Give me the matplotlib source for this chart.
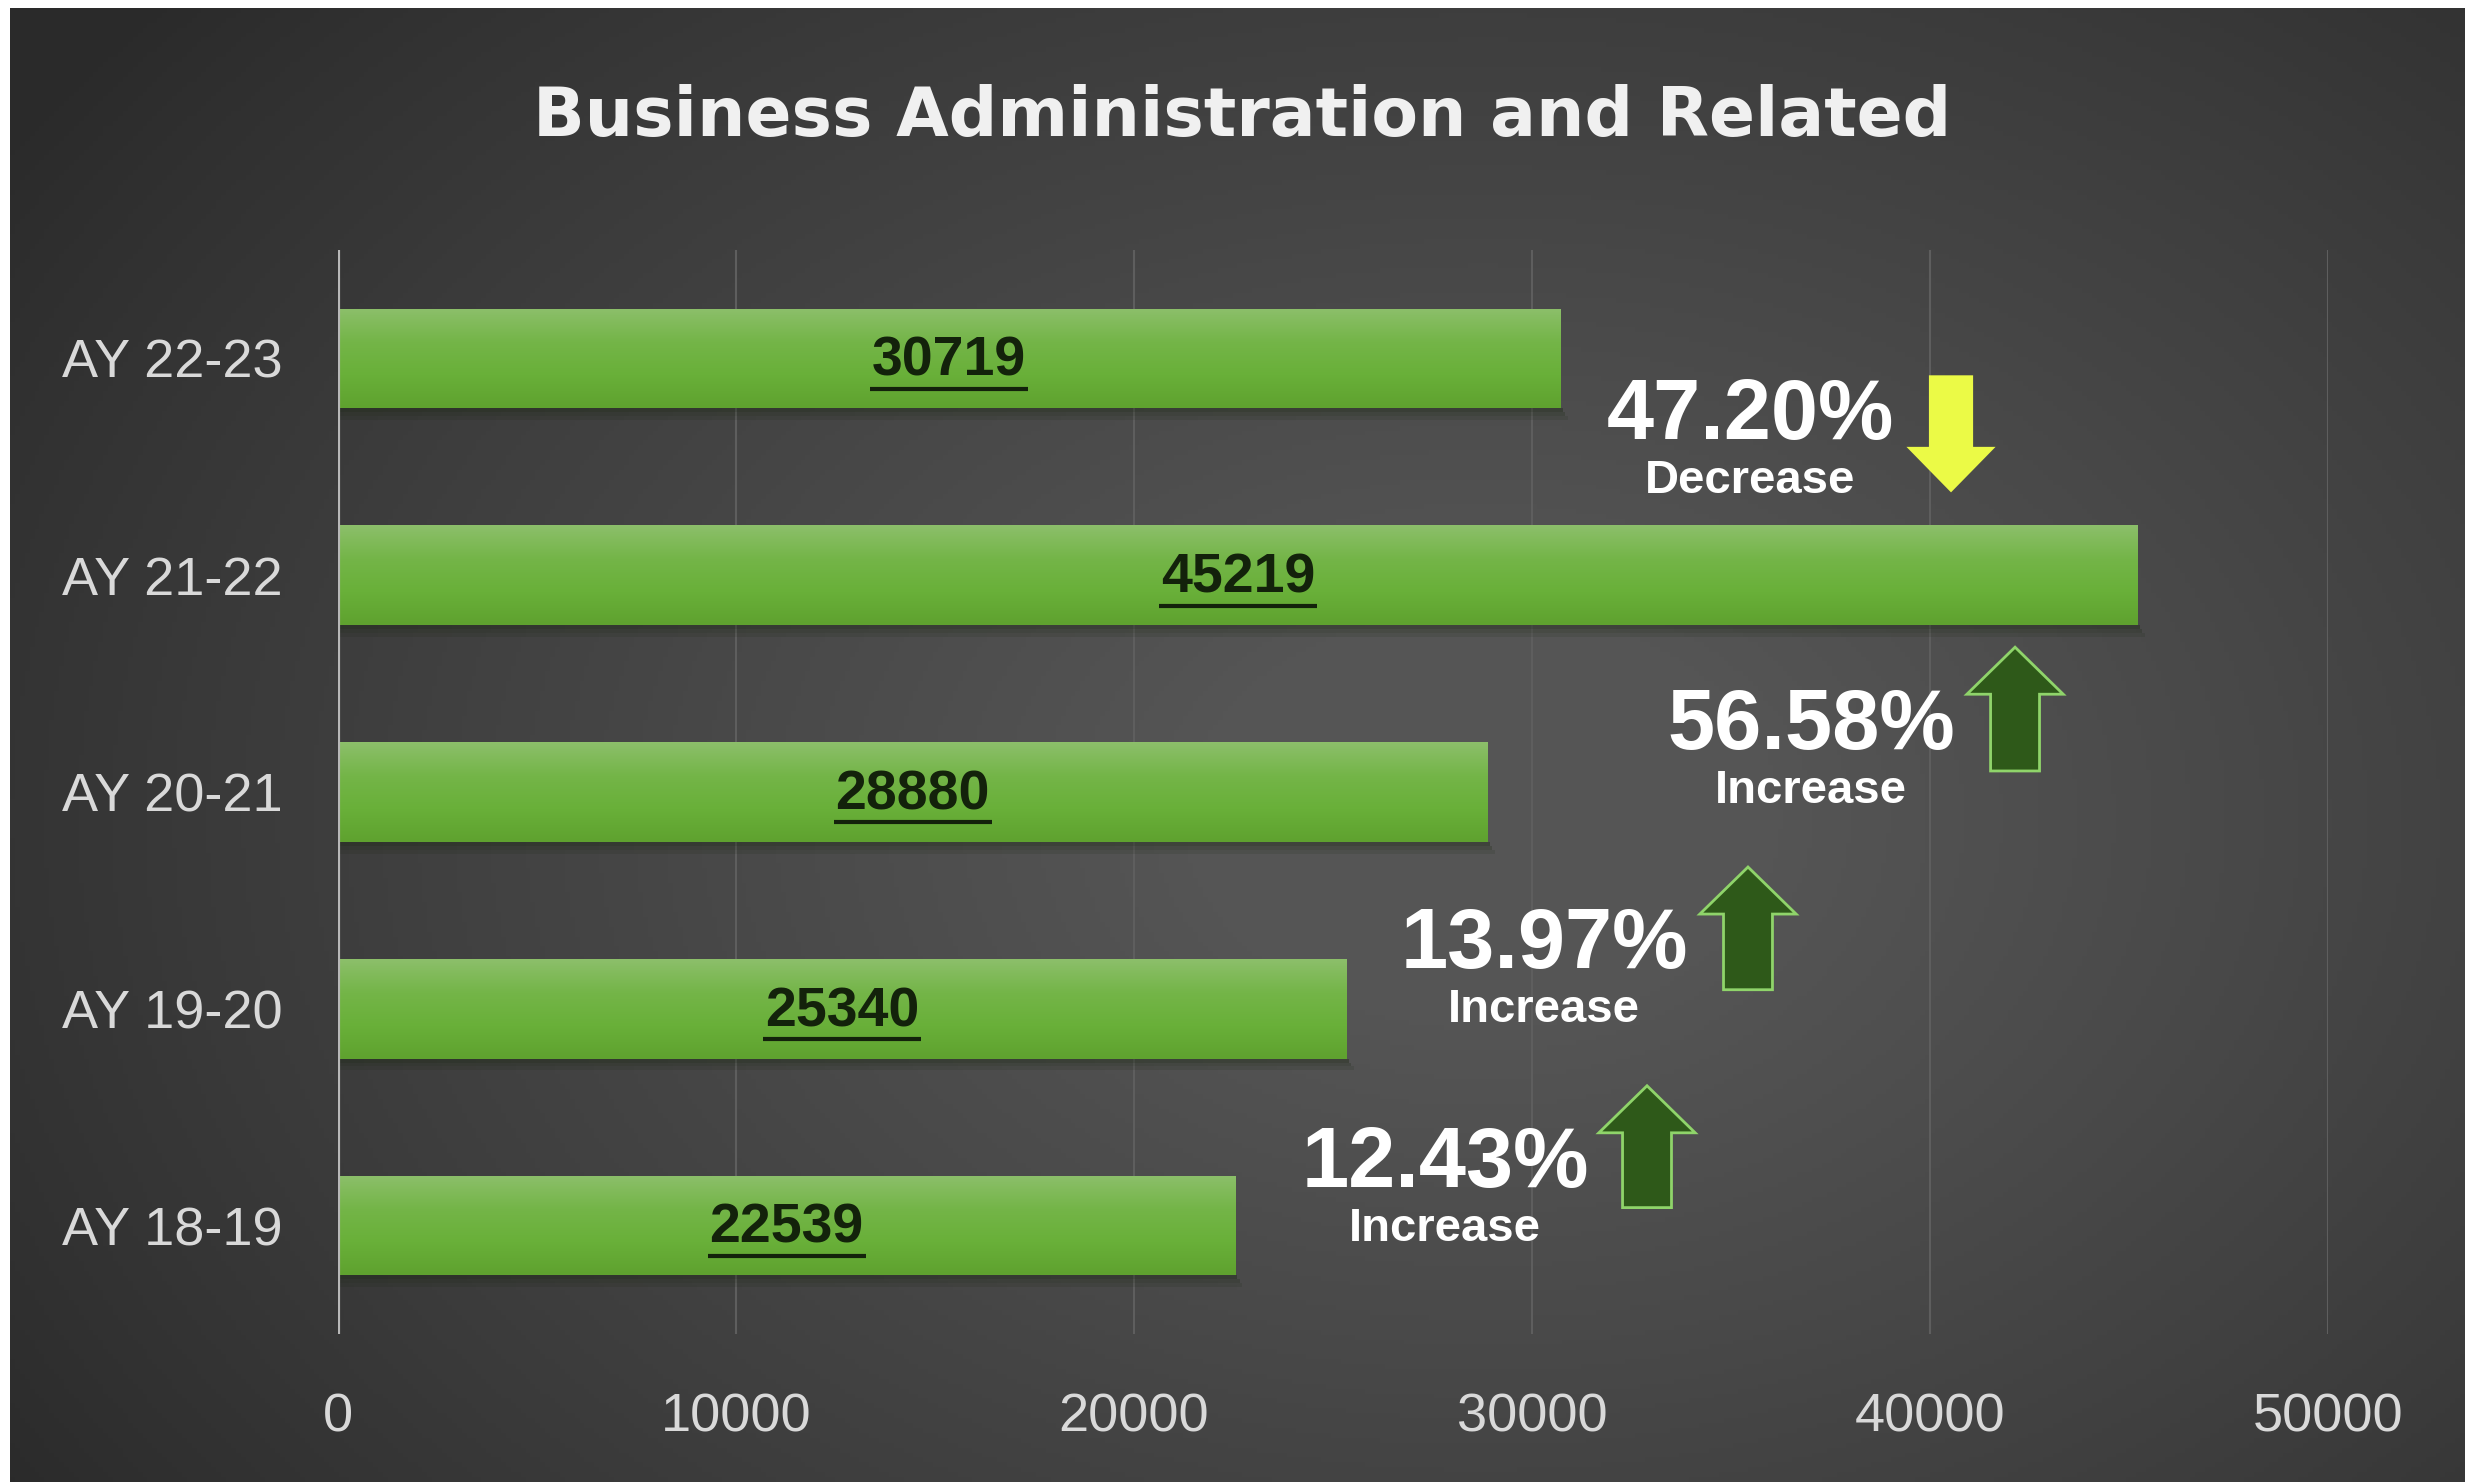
import numpy as np
import matplotlib
matplotlib.use("Agg")
import matplotlib.pyplot as plt
from matplotlib.patches import Polygon, Rectangle
from matplotlib.colors import LinearSegmentedColormap

# chart data
years = ["AY 18-19", "AY 19-20", "AY 20-21", "AY 21-22", "AY 22-23"]
counts = [22539, 25340, 28880, 45219, 30719]
x_ticks = [0, 10000, 20000, 30000, 40000, 50000]

# year-over-year change callouts (placed between bars)
pct_labels = ["12.43%", "13.97%", "56.58%", "47.20%"]
pct_words = ["Increase", "Increase", "Increase", "Decrease"]
pct_text_x = [27815, 30302, 37011, 35477]
pct_text_y = [0.18, 1.19, 2.20, 3.63]
arrow_x = [32890, 35427, 42137, 40528]
arrow_base = [0.083, 1.088, 2.097, 3.922]
arrow_tip = [0.645, 1.654, 2.668, 3.382]

W, H = 2465, 1482
fig = plt.figure(figsize=(W / 100, H / 100), dpi=100)
fig.patch.set_facecolor("white")

# dark radial background, thin white strip on left and top
bg = fig.add_axes([10 / W, 0, 1 - 10 / W, 1 - 8 / H])
bg.set_axis_off()
yy, xx = np.mgrid[0:1:300j, 0:1:500j]
r = np.sqrt(((xx - 0.6) / 0.72) ** 2 + ((yy - 0.55) / 0.85) ** 2)
shade = np.clip(1 - r, 0, 1) ** 0.9
bg_cmap = LinearSegmentedColormap.from_list("bg", ["#2a2a2a", "#555555"])
bg.imshow(shade, cmap=bg_cmap, aspect="auto", extent=[0, 1, 0, 1], vmin=0, vmax=0.85)
bg.set_xlim(0, 1)
bg.set_ylim(0, 1)

ax = fig.add_axes([338 / W, 1 - 1334 / H, (2328 - 338) / W, (1334 - 250) / H])
ax.set_facecolor("none")
ypos = np.arange(len(years))
bar_h = 0.46

bars = ax.barh(ypos, counts, height=bar_h, color="#6aaf3a", zorder=3)

# soft shadow under each bar
for b in bars:
    for k, a in enumerate([0.35, 0.22, 0.12]):
        ax.add_patch(Rectangle((b.get_x(), b.get_y() - 0.018 * (k + 1)), b.get_width() + 60 * (k + 1),
                               0.018, facecolor="#16240c", alpha=a, zorder=2, lw=0))

# vertical gradient on the bars
grad = np.linspace(0, 1, 100).reshape(-1, 1)
bar_cmap = LinearSegmentedColormap.from_list("bar", ["#5fa22f", "#69b039", "#74b548", "#8cbf6a"])
for b in bars:
    im = ax.imshow(grad, cmap=bar_cmap, aspect="auto", origin="lower", zorder=4,
                   extent=[b.get_x(), b.get_x() + b.get_width(), b.get_y(), b.get_y() + b.get_height()])
    im.set_clip_path(b)

# value labels, underlined
for y, v in zip(ypos, counts):
    ax.text(v / 2, y - 0.015, str(v), ha="center", va="center", fontsize=40,
            family="Liberation Sans", fontweight="bold", color="#13220b", zorder=6)
    ax.plot([v / 2 - 1985, v / 2 + 1985], [y - 0.14, y - 0.14], color="#13220b",
            lw=3, zorder=6, solid_capstyle="butt")

ax.set_xlim(0, 50000)
ax.set_ylim(-0.5, 4.5)
ax.set_xticks(x_ticks)
ax.set_xticklabels([str(t) for t in x_ticks])
ax.set_yticks(ypos)
ax.set_yticklabels(years)
ax.tick_params(axis="both", length=0, colors="#d9d9d9", labelsize=39)
ax.tick_params(axis="x", pad=42)
ax.tick_params(axis="y", pad=40)
for lab in ax.get_xticklabels() + ax.get_yticklabels():
    lab.set_family("Liberation Sans")
ax.grid(axis="x", color="#5e5e5e", lw=1.5, zorder=0)
for s in ax.spines.values():
    s.set_visible(False)
ax.axvline(0, color="#b8b8b8", lw=3, zorder=5)


def block_arrow(xc, y0, y1, head_w=2420, shaft_w=1230, head_len=0.217):
    d = 1 if y1 > y0 else -1
    yh = y1 - d * head_len
    return [(xc - shaft_w / 2, y0), (xc + shaft_w / 2, y0), (xc + shaft_w / 2, yh),
            (xc + head_w / 2, yh), (xc, y1), (xc - head_w / 2, yh), (xc - shaft_w / 2, yh)]


for i in range(len(pct_labels)):
    ax.text(pct_text_x[i], pct_text_y[i], pct_labels[i], ha="center", va="baseline",
            fontsize=61, fontweight="bold", family="Liberation Sans", color="white", zorder=7)
    ax.text(pct_text_x[i], pct_text_y[i] - 0.25, pct_words[i], ha="center", va="baseline",
            fontsize=34, fontweight="bold", family="Liberation Sans", color="white", zorder=7)
    if pct_words[i] == "Decrease":
        pts = block_arrow(arrow_x[i], arrow_base[i], arrow_tip[i], head_w=2240, shaft_w=1110, head_len=0.21)
        ax.add_patch(Polygon(pts, closed=True, facecolor="#ebfa46", edgecolor="none", zorder=7))
    else:
        pts = block_arrow(arrow_x[i], arrow_base[i], arrow_tip[i])
        ax.add_patch(Polygon(pts, closed=True, facecolor="#2e5919", edgecolor="#8fd46a",
                             lw=2, zorder=7, joinstyle="miter"))

fig.text(0.504, 1 - 117 / H, "Business Administration and Related", ha="center", va="center",
         fontsize=49, fontweight="bold", family="DejaVu Sans", color="#f0f0f0")

fig.savefig("out.png", dpi=100, facecolor=fig.get_facecolor())
